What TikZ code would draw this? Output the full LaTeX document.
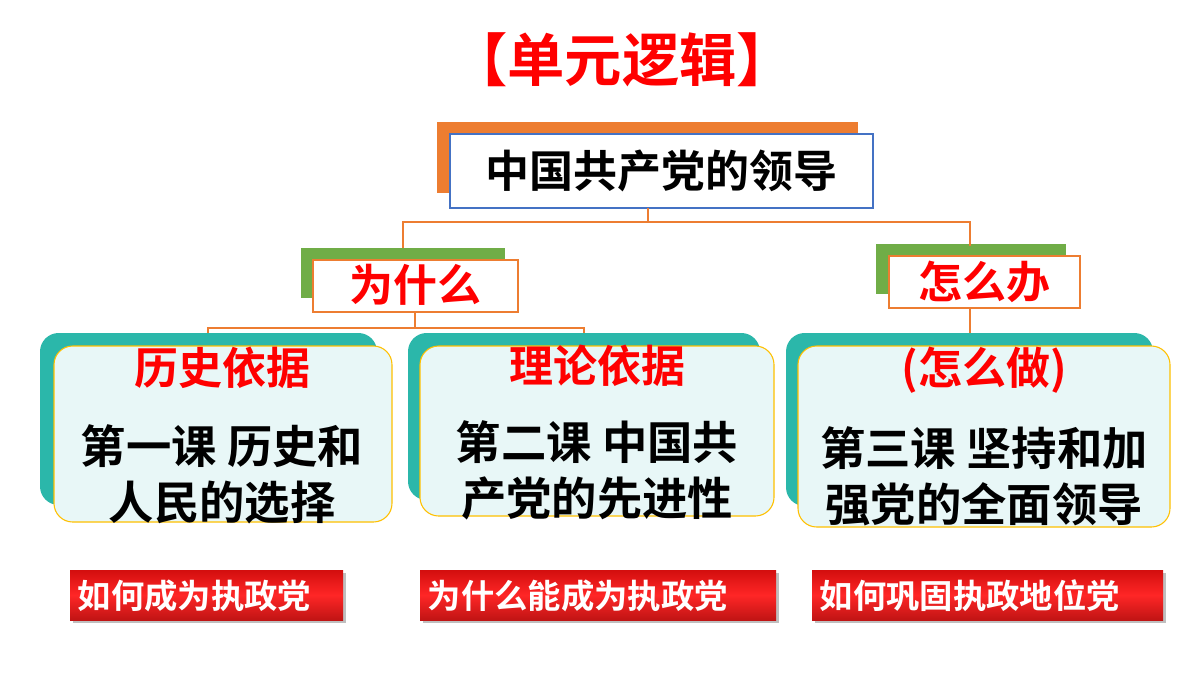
\documentclass[tikz,border=0pt]{standalone}
\usepackage{fontspec}
\setmainfont{Noto Sans CJK SC}[BoldFont={Noto Sans CJK SC Bold}]
\usetikzlibrary{positioning}
\definecolor{myorange}{RGB}{237,125,49}
\definecolor{mygreen}{RGB}{112,173,71}
\definecolor{myteal}{RGB}{43,183,170}
\definecolor{mypale}{RGB}{232,247,247}
\definecolor{myred}{RGB}{255,0,0}
\definecolor{mylink}{RGB}{237,125,49}
\definecolor{myblue}{RGB}{68,114,196}
\definecolor{mygold}{RGB}{255,192,0}
\definecolor{darkred}{RGB}{192,20,20}
\tikzset{
  link/.style={draw=mylink, line width=0.8pt},
  headtxt/.style={font=\bfseries\fontsize{33}{33}\selectfont, text=myred},
  bodytxt/.style={font=\bfseries\fontsize{34}{42}\selectfont, align=center},
  tagbox/.style={font=\bfseries\fontsize{25}{25}\selectfont, text=white, anchor=west}
}
\begin{document}
\begin{tikzpicture}[x=0.75pt,y=0.75pt,yscale=-1,xscale=1]
\useasboundingbox (0,0) rectangle (1200,675);
\fill[white] (0,0) rectangle (1200,675);

% title
\node (title) at (622,60) [font=\bfseries\fontsize{43}{43}\selectfont, text=myred] {【单元逻辑】};

% top box
\fill[myorange] (437,122) rectangle (858,193);
\draw[myblue, fill=white, line width=0.8pt] (450,134) rectangle (873,208);
\node (top) at (661,171) [font=\bfseries\fontsize{33}{33}\selectfont] {中国共产党的领导};

% why / how
\fill[mygreen] (301,248) rectangle (505,298);
\draw[myorange, fill=white, line width=0.8pt] (313,260) rectangle (518,312);
\node (why) at (415,285) [headtxt] {为什么};
\fill[mygreen] (876,244) rectangle (1066,294);
\draw[myorange, fill=white, line width=0.8pt] (889,256) rectangle (1080,308);
\node (how) at (984,282) [headtxt] {怎么办};

% connectors
\coordinate (c0) at (648,222);
\draw[link] (648,208) -- (c0);
\draw[link] (403,248) -- (403,222) -- (970,222) -- (970,246);
\draw[link] (415,312) -- (415,328);
\draw[link] (208,344) -- (208,328) -- (584,328) -- (584,344);
\draw[link] (970,308) -- (970,335);

% lesson boxes
\foreach \xa/\xb/\xc/\xd/\yb/\yd in {40/377/54/392/505/522, 408/760/420/774/500/516, 786/1153/798/1170/506/527}{
  \fill[myteal, rounded corners=14pt] (\xa,333) rectangle (\xb,\yb);
  \draw[mygold, fill=mypale, rounded corners=14pt, line width=0.8pt] (\xc,346) rectangle (\xd,\yd);
}
\node (h1) at (222,368) [headtxt] {历史依据};
\node (h2) at (597,366) [headtxt] {理论依据};
\node (h3) at (984,370) [headtxt] {(怎么做)};
\node (b1) at (222,474) [bodytxt] {第一课 历史和\\人民的选择};
\node (b2) at (597,470) [bodytxt] {第二课 中国共\\产党的先进性};
\node (b3) at (984,476) [bodytxt] {第三课 坚持和加\\强党的全面领导};

% bottom tags
\foreach \xa/\xb in {70/343, 420/776, 812/1163}{
  \fill[black!25] (\xa+3,573) rectangle (\xb+3,623);
  \shade[top color=darkred!70!red, bottom color=darkred, middle color=red!85!white] (\xa,570) rectangle (\xb,620);
}
\node (t1) at (73,596) [tagbox] {如何成为执政党};
\node (t2) at (423,596) [tagbox] {为什么能成为执政党};
\node (t3) at (815,596) [tagbox] {如何巩固执政地位党};
\end{tikzpicture}
\end{document}
